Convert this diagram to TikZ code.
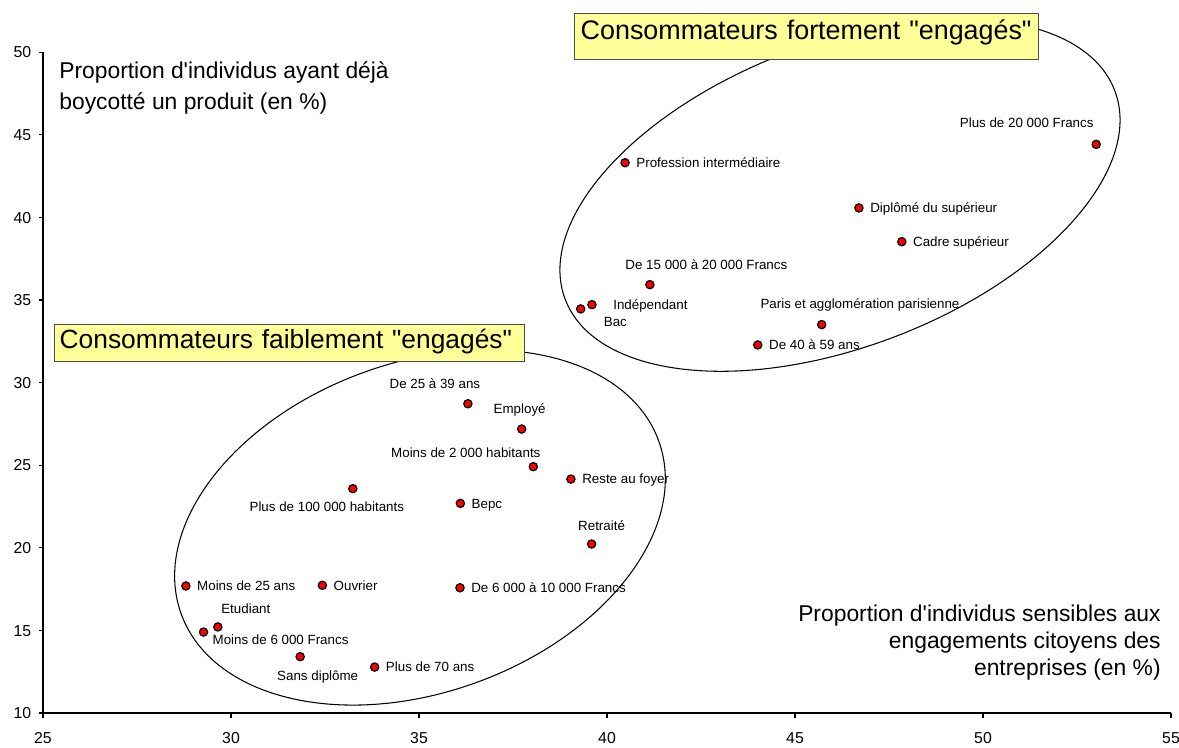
\documentclass[tikz,border=0pt]{standalone}
\usepackage{fontspec}
\setmainfont{Liberation Sans}[Ligatures=TeXOff]
\definecolor{boxyellow}{HTML}{FFFF99}
\newcommand{\obs}[5]{\node[dot] (#1) at ({43+(#2-25)*37.6},{713-(#3-10)*16.52}) {};\node[lbl,#4] (lab#1) at (#1.center) {#5};}

\begin{document}
\begin{tikzpicture}[x=0.02cm,y=-0.02cm,
	dot/.style={circle,fill=red,draw=black,line width=0.7pt,inner sep=0pt,minimum size=0.165cm},
	lbl/.style={inner sep=0pt,font=\fontsize{7.6}{9}\selectfont,text height=5.4pt,text depth=0pt},
	onright/.style={anchor=west,xshift=0.22cm},
	axnum/.style={inner sep=0pt,font=\fontsize{9}{11}\selectfont,text height=6.4pt,text depth=0pt},
	axis/.style={line width=0.6pt},
	ring/.style={line width=0.6pt},
	title/.style={draw=black!70,fill=boxyellow,line width=0.8pt,anchor=north west,inner ysep=0pt,align=left,font=\fontsize{15.3}{18}\selectfont},
	axtitle/.style={inner sep=0pt,font=\fontsize{13}{17.5}\selectfont}]
	\useasboundingbox (0,0) rectangle (1179,747);

	% the two groups
	\coordinate (hc) at (840,195);
	\draw[ring,rotate around={20.8:(hc)}] (hc) ellipse [x radius=5.88cm,y radius=3.04cm];
	\coordinate (lc) at (420,527.5);
	\draw[ring,rotate around={19.9:(lc)}] (lc) ellipse [x radius=5.08cm,y radius=3.30cm];

	% axes
	\coordinate (origin) at (43,713);
	\coordinate (ytop) at (43,52);
	\coordinate (xend) at (1171,713);
	\draw[axis] (ytop) -- (origin) -- (xend);
	\foreach \v in {10,15,...,50}{
		\draw[axis] (39,{713-(\v-10)*16.52}) -- (43,{713-(\v-10)*16.52});
		\node[axnum,anchor=east] (ny\v) at (31.5,{713-(\v-10)*16.52}) {\v};
	}
	\foreach \v in {25,30,...,55}{
		\draw[axis] ({43+(\v-25)*37.6},713) -- ({43+(\v-25)*37.6},718);
		\node[axnum] (nx\v) at ({43+(\v-25)*37.6},738) {\v};
	}
	\node[axtitle,anchor=north west,align=left] (ytitle) at (59,61.4) {Proportion d'individus ayant déjà\\boycotté un produit (en \%)};
	\node[axtitle,anchor=north east,align=right,font=\fontsize{13}{15.4}\selectfont] (xtitle) at (1161,604.5) {Proportion d'individus sensibles aux\\engagements citoyens des\\entreprises (en \%)};

	% upper group
	\obs{inc20}{53.01}{44.42}{xshift=-1.39cm,yshift=0.44cm}{Plus de 20 000 Francs}
	\obs{profint}{40.48}{43.31}{onright}{Profession intermédiaire}
	\obs{diplsup}{46.70}{40.57}{onright}{Diplômé du supérieur}
	\obs{cadresup}{47.84}{38.53}{onright}{Cadre supérieur}
	\obs{inc15}{41.14}{35.93}{xshift=1.13cm,yshift=0.406cm}{De 15 000 à 20 000 Francs}
	\obs{indep}{39.60}{34.72}{anchor=west,xshift=0.42cm}{Indépendant}
	\obs{bac}{39.30}{34.46}{xshift=0.694cm,yshift=-0.266cm}{Bac}
	\obs{paris}{45.71}{33.51}{xshift=0.766cm,yshift=0.426cm}{Paris et agglomération parisienne}
	\obs{age40}{44.01}{32.28}{onright}{De 40 à 59 ans}

	% lower group
	\obs{age25}{36.30}{28.72}{xshift=-0.66cm,yshift=0.40cm}{De 25 à 39 ans}
	\obs{employe}{37.73}{27.19}{xshift=-0.04cm,yshift=0.40cm}{Employé}
	\obs{hab2}{38.04}{24.91}{xshift=-1.35cm,yshift=0.288cm}{Moins de 2 000 habitants}
	\obs{foyer}{39.04}{24.16}{onright}{Reste au foyer}
	\obs{hab100}{33.24}{23.58}{xshift=-0.52cm,yshift=-0.36cm}{Plus de 100 000 habitants}
	\obs{bepc}{36.10}{22.69}{onright}{Bepc}
	\obs{retraite}{39.59}{20.23}{xshift=0.20cm,yshift=0.366cm}{Retraité}
	\obs{ageu25}{28.80}{17.69}{onright}{Moins de 25 ans}
	\obs{ouvrier}{32.43}{17.73}{onright}{Ouvrier}
	\obs{inc6}{36.09}{17.58}{onright}{De 6 000 à 10 000 Francs}
	\obs{etudiant}{29.65}{15.21}{xshift=0.56cm,yshift=0.366cm}{Etudiant}
	\obs{incu6}{29.27}{14.90}{xshift=1.54cm,yshift=-0.146cm}{Moins de 6 000 Francs}
	\obs{sansdipl}{31.84}{13.41}{xshift=0.35cm,yshift=-0.374cm}{Sans diplôme}
	\obs{age70}{33.82}{12.78}{onright}{Plus de 70 ans}

	% group titles
	\node[title,inner xsep=0.12cm,text width=9.04cm,text height=0.52cm,text depth=0.40cm] (hightitle) at (574,13) {\mbox{Consommateurs fortement "engagés"}};
	\node[title,font=\fontsize{15}{18}\selectfont,inner xsep=0.10cm,text width=9.2cm,text height=0.48cm,text depth=0.26cm] (lowtitle) at (54,324) {\mbox{Consommateurs faiblement "engagés"}};
\end{tikzpicture}
\end{document}
